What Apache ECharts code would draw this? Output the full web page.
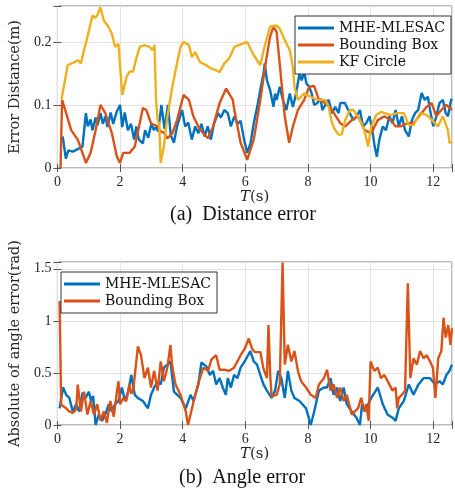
<!DOCTYPE html>
<html lang="en">
<head>
    <meta charset="UTF-8">
    <title>Distance and angle error</title>
    <script src="https://cdn.jsdelivr.net/npm/echarts@6/dist/echarts.min.js"></script>
    <style>
        html, body { margin: 0; padding: 0; background: #fff; }
        #main { width: 455px; height: 492px; }
    </style>
</head>
<body>
    <div id="main"></div>
    <script>
        // series names
        const names = ["MHE-MLESAC", "Bounding Box", "KF Circle"]
        const colors = ["#0072BD", "#D95319", "#EDB120"]

        // (a) distance error, [t, value]
        const distMhe = [[0.17,0.05],[0.27,0.015],[0.35,0.028],[0.49,0.026],[0.65,0.03],[0.8,0.034],[0.91,0.087],[0.97,0.066],[1.06,0.077],[1.12,0.06],[1.22,0.08],[1.28,0.068],[1.38,0.087],[1.45,0.07],[1.53,0.082],[1.6,0.065],[1.7,0.088],[1.78,0.07],[1.9,0.09],[2.0,0.1],[2.07,0.065],[2.15,0.088],[2.25,0.06],[2.35,0.07],[2.45,0.045],[2.52,0.066],[2.6,0.045],[2.73,0.039],[2.8,0.06],[2.9,0.048],[3.0,0.07],[3.08,0.06],[3.15,0.065],[3.22,0.058],[3.32,0.1],[3.42,0.062],[3.53,0.1],[3.62,0.052],[3.72,0.04],[3.82,0.066],[3.98,0.092],[4.08,0.066],[4.18,0.072],[4.29,0.045],[4.4,0.066],[4.5,0.055],[4.6,0.07],[4.7,0.05],[4.8,0.066],[4.9,0.045],[5.0,0.07],[5.13,0.087],[5.22,0.08],[5.33,0.092],[5.44,0.087],[5.54,0.066],[5.65,0.082],[5.75,0.07],[5.85,0.075],[5.96,0.045],[6.06,0.024],[6.17,0.04],[6.27,0.071],[6.38,0.097],[6.48,0.124],[6.58,0.15],[6.62,0.166],[6.69,0.139],[6.79,0.124],[6.9,0.097],[6.95,0.118],[7.0,0.108],[7.1,0.129],[7.2,0.108],[7.31,0.092],[7.42,0.118],[7.52,0.097],[7.62,0.118],[7.73,0.15],[7.8,0.139],[7.88,0.153],[7.95,0.134],[8.04,0.129],[8.12,0.118],[8.2,0.1],[8.3,0.103],[8.4,0.11],[8.46,0.092],[8.56,0.1],[8.66,0.108],[8.77,0.087],[8.87,0.097],[8.98,0.087],[9.03,0.103],[9.08,0.105],[9.18,0.103],[9.34,0.087],[9.45,0.076],[9.55,0.082],[9.66,0.092],[9.76,0.066],[9.86,0.071],[9.97,0.082],[10.07,0.055],[10.13,0.034],[10.2,0.018],[10.28,0.045],[10.39,0.066],[10.49,0.06],[10.6,0.082],[10.7,0.071],[10.8,0.092],[10.9,0.066],[11.0,0.082],[11.1,0.06],[11.22,0.05],[11.32,0.076],[11.42,0.087],[11.52,0.092],[11.63,0.119],[11.73,0.108],[11.83,0.113],[11.9,0.092],[12.0,0.066],[12.1,0.082],[12.2,0.103],[12.31,0.108],[12.4,0.087],[12.47,0.082],[12.57,0.108],[12.6,0.11]]
        const distBox = [[0.1,0],[0.15,0.108],[0.28,0.087],[0.44,0.06],[0.65,0.045],[0.8,0.024],[0.91,0.008],[1.06,0.024],[1.22,0.06],[1.375,0.1],[1.53,0.087],[1.74,0.055],[1.9,0.018],[2.0,0.008],[2.1,0.024],[2.31,0.024],[2.47,0.034],[2.56,0.055],[2.73,0.095],[2.84,0.092],[2.99,0.071],[3.2,0.066],[3.3,0.058],[3.4,0.056],[3.51,0.047],[3.67,0.055],[3.82,0.076],[4.03,0.116],[4.2,0.108],[4.34,0.082],[4.55,0.061],[4.81,0.047],[4.97,0.066],[5.18,0.103],[5.39,0.126],[5.44,0.129],[5.6,0.108],[5.65,0.092],[5.85,0.04],[6.06,0.013],[6.27,0.045],[6.48,0.108],[6.63,0.16],[6.79,0.208],[6.9,0.224],[7.0,0.216],[7.16,0.134],[7.26,0.082],[7.4,0.04],[7.52,0.066],[7.68,0.092],[7.88,0.108],[8.04,0.129],[8.2,0.13],[8.35,0.108],[8.56,0.103],[8.77,0.092],[9.03,0.071],[9.19,0.066],[9.4,0.076],[9.6,0.082],[9.81,0.06],[10.02,0.055],[10.23,0.076],[10.44,0.082],[10.65,0.076],[10.8,0.066],[10.96,0.066],[11.17,0.071],[11.37,0.071],[11.58,0.084],[11.79,0.097],[11.95,0.103],[12.1,0.082],[12.26,0.092],[12.42,0.1],[12.6,0.092]]
        const distKf = [[0.13,0.109],[0.33,0.163],[0.54,0.168],[0.65,0.171],[0.75,0.166],[0.85,0.187],[0.96,0.208],[1.06,0.229],[1.12,0.242],[1.2,0.238],[1.27,0.242],[1.375,0.255],[1.48,0.234],[1.63,0.224],[1.74,0.213],[1.84,0.192],[1.95,0.197],[2.0,0.2],[2.07,0.116],[2.21,0.145],[2.31,0.153],[2.42,0.153],[2.52,0.174],[2.63,0.192],[2.78,0.195],[2.94,0.192],[3.04,0.187],[3.1,0.195],[3.15,0.108],[3.2,0.076],[3.25,0.07],[3.3,0.008],[3.4,0.034],[3.51,0.081],[3.67,0.129],[3.82,0.166],[3.93,0.192],[4.03,0.2],[4.2,0.195],[4.29,0.176],[4.4,0.184],[4.55,0.168],[4.76,0.163],[4.9,0.158],[5.07,0.155],[5.18,0.152],[5.33,0.166],[5.49,0.174],[5.65,0.192],[6.06,0.2],[6.27,0.179],[6.48,0.163],[6.6,0.19],[6.79,0.224],[7.0,0.226],[7.1,0.221],[7.26,0.203],[7.42,0.187],[7.52,0.16],[7.57,0.129],[7.68,0.108],[7.88,0.118],[8.09,0.113],[8.3,0.108],[8.56,0.108],[8.66,0.097],[8.77,0.071],[8.875,0.06],[8.98,0.053],[9.08,0.053],[9.19,0.076],[9.34,0.092],[9.45,0.092],[9.66,0.076],[9.8,0.06],[9.92,0.034],[10.02,0.066],[10.18,0.084],[10.33,0.089],[10.65,0.084],[10.85,0.087],[11.06,0.087],[11.22,0.068],[11.37,0.068],[11.58,0.087],[11.8,0.084],[12.0,0.074],[12.15,0.066],[12.31,0.082],[12.47,0.06],[12.52,0.04],[12.6,0.041]]

        // (b) angle error, [t, value]
        const angMhe = [[0.07,0.16],[0.18,0.36],[0.28,0.29],[0.38,0.26],[0.49,0.13],[0.6,0.2],[0.7,0.13],[0.8,0.31],[0.9,0.26],[1.0,0.32],[1.08,0.23],[1.14,0.28],[1.22,0.0],[1.32,0.1],[1.43,0.04],[1.53,0.1],[1.64,0.2],[1.74,0.13],[1.84,0.2],[1.95,0.23],[2.06,0.36],[2.16,0.23],[2.26,0.32],[2.36,0.48],[2.47,0.29],[2.57,0.26],[2.73,0.23],[2.89,0.16],[2.99,0.29],[3.09,0.36],[3.2,0.42],[3.3,0.39],[3.4,0.55],[3.51,0.58],[3.61,0.61],[3.72,0.32],[3.93,0.26],[4.1,0.16],[4.25,0.29],[4.35,0.23],[4.5,0.39],[4.6,0.6],[4.76,0.56],[4.87,0.48],[4.97,0.52],[5.07,0.39],[5.18,0.45],[5.28,0.36],[5.38,0.29],[5.44,0.45],[5.54,0.36],[5.64,0.48],[5.75,0.45],[5.85,0.55],[5.98,0.61],[6.16,0.71],[6.27,0.61],[6.375,0.58],[6.48,0.48],[6.58,0.39],[6.69,0.33],[6.84,0.26],[6.95,0.33],[7.05,0.52],[7.15,0.45],[7.26,0.26],[7.36,0.52],[7.47,0.33],[7.57,0.26],[7.73,0.23],[7.94,0.16],[8.09,0.0],[8.2,0.13],[8.35,0.33],[8.51,0.36],[8.61,0.36],[8.72,0.45],[8.82,0.29],[8.93,0.36],[9.03,0.23],[9.14,0.36],[9.24,0.2],[9.4,0.13],[9.55,0.07],[9.66,0.0],[9.73,0.2],[9.81,0.13],[10.02,0.26],[10.23,0.36],[10.39,0.2],[10.54,0.1],[10.7,0.07],[10.8,0.04],[10.9,0.16],[11.06,0.23],[11.22,0.39],[11.37,0.29],[11.53,0.39],[11.69,0.45],[11.9,0.45],[12.05,0.39],[12.2,0.42],[12.31,0.39],[12.42,0.48],[12.52,0.52],[12.6,0.58]]
        const angBox = [[0.07,1.19],[0.12,0.195],[0.28,0.16],[0.38,0.13],[0.49,0.115],[0.6,0.15],[0.65,0.387],[0.75,0.13],[0.85,0.32],[0.96,0.1],[1.06,0.23],[1.17,0.1],[1.27,0.2],[1.38,0.04],[1.48,0.13],[1.58,0.02],[1.69,0.23],[1.8,0.08],[1.9,0.32],[1.95,0.42],[2.0,0.2],[2.1,0.26],[2.2,0.23],[2.3,0.39],[2.36,0.3],[2.42,0.33],[2.57,0.755],[2.67,0.67],[2.78,0.45],[2.89,0.55],[2.99,0.36],[3.09,0.52],[3.2,0.33],[3.3,0.61],[3.4,0.42],[3.51,0.55],[3.61,0.77],[3.66,0.58],[3.77,0.39],[3.93,0.29],[4.1,0.13],[4.17,0.0],[4.25,0.1],[4.4,0.29],[4.55,0.45],[4.66,0.55],[4.81,0.52],[4.92,0.63],[5.07,0.67],[5.18,0.53],[5.33,0.53],[5.49,0.52],[5.64,0.55],[5.85,0.67],[5.98,0.73],[6.11,0.83],[6.22,0.73],[6.3,0.7],[6.48,0.7],[6.58,0.54],[6.69,0.45],[6.74,0.96],[6.8,0.45],[6.84,0.275],[7.0,0.29],[7.1,0.39],[7.19,1.56],[7.26,0.58],[7.36,0.77],[7.47,0.61],[7.57,0.71],[7.68,0.52],[7.78,0.42],[7.94,0.36],[8.09,0.29],[8.25,0.26],[8.35,0.39],[8.51,0.45],[8.61,0.53],[8.72,0.33],[8.82,0.39],[8.93,0.26],[9.03,0.36],[9.14,0.23],[9.24,0.29],[9.4,0.1],[9.5,0.13],[9.6,0.16],[9.7,0.26],[9.81,0.13],[9.86,0.2],[9.94,0.04],[10.0,0.61],[10.12,0.52],[10.23,0.55],[10.33,0.45],[10.44,0.48],[10.6,0.39],[10.7,0.33],[10.8,0.36],[10.85,0.16],[10.9,0.26],[11.0,0.29],[11.1,0.33],[11.19,1.36],[11.27,0.45],[11.37,0.64],[11.48,0.58],[11.58,0.71],[11.69,0.64],[11.79,0.67],[11.9,0.61],[11.99,0.55],[12.07,0.26],[12.16,0.64],[12.26,0.71],[12.33,1.03],[12.4,0.84],[12.48,0.96],[12.55,0.77],[12.6,0.93]]

        const font = "Liberation Serif"
        const wide = "DejaVu Serif"
        const txt = "#262626"

        function tickFmt(step) {
            // only label multiples of the step (hide the auto max label)
            return function (v) {
                let k = Math.round(v / step)
                return Math.abs(k * step - v) < 1e-6 ? String(+(k * step).toFixed(2)) : ""
            }
        }

        function xAxis(idx) {
            return {
                type: "value", gridIndex: idx, min: 0, max: 12.6, interval: 2,
                name: "{i|T}(s)", nameLocation: "middle", nameGap: 21,
                nameTextStyle: { fontFamily: wide, fontSize: 15, color: txt,
                    rich: { i: { fontFamily: wide, fontStyle: "italic", fontSize: 15, color: txt } } },
                axisLine: { show: false },
                axisTick: { inside: true, length: 4, lineStyle: { color: "#555" } },
                axisLabel: { fontFamily: font, fontSize: 14, color: txt, margin: 7, formatter: tickFmt(2) },
                splitLine: { lineStyle: { color: "#e3e3e3" } }
            }
        }

        function yAxis(idx, max, step, name, gap) {
            return {
                type: "value", gridIndex: idx, min: 0, max: max, interval: step,
                name: name, nameLocation: "middle", nameGap: gap,
                nameTextStyle: { fontFamily: wide, fontSize: 14.5, color: txt },
                axisLine: { show: false },
                axisTick: { inside: true, length: 4, lineStyle: { color: "#555" } },
                axisLabel: { fontFamily: font, fontSize: 14, color: txt, margin: 6, formatter: tickFmt(step) },
                splitLine: { lineStyle: { color: "#e3e3e3" } }
            }
        }

        // mirrored ticks on top / right (box on)
        function mirror(idx, dim, max, step) {
            return {
                type: "value", gridIndex: idx, min: 0, max: max, interval: step,
                position: dim === "x" ? "top" : "right",
                axisLine: { show: false }, axisLabel: { show: false }, splitLine: { show: false },
                axisTick: { inside: true, length: 4, lineStyle: { color: "#555" } }
            }
        }

        function line(name, data, color, idx) {
            return {
                type: "line", name: name, data: data, xAxisIndex: idx, yAxisIndex: idx,
                showSymbol: false, symbol: "none",
                lineStyle: { color: color, width: 2.4 }, itemStyle: { color: color }
            }
        }

        let legendBase = {
            orient: "vertical", icon: "rect", itemWidth: 36, itemHeight: 3, itemGap: 3,
            backgroundColor: "#fff", borderColor: "#333", borderWidth: 1, borderRadius: 0,
            padding: [5, 6, 5, 3],
            textStyle: { fontFamily: wide, fontSize: 14, color: "#111" }
        }

        let chart = echarts.init(document.getElementById("main"), null, { renderer: "canvas" })
        chart.setOption({
            animation: false,
            backgroundColor: "#fff",
            grid: [
                { left: 51, top: 6, right: 0, height: 162, show: true, borderColor: "#777", borderWidth: 1 },
                { left: 51, top: 262, right: 0, height: 163, show: true, borderColor: "#777", borderWidth: 1 }
            ],
            title: [
                { text: "(a)  Distance error", left: 165, top: 200,
                  textStyle: { fontFamily: font, fontSize: 20, fontWeight: "normal", color: "#111" } },
                { text: "(b)  Angle error", left: 174, top: 463,
                  textStyle: { fontFamily: font, fontSize: 20, fontWeight: "normal", color: "#111" } }
            ],
            legend: [
                Object.assign({}, legendBase, { data: names, left: 295, top: 16 }),
                Object.assign({}, legendBase, { data: names.slice(0, 2), left: 61, top: 272 })
            ],
            xAxis: [xAxis(0), xAxis(1), mirror(0, "x", 12.6, 2), mirror(1, "x", 12.6, 2)],
            yAxis: [
                yAxis(0, 0.257, 0.1, "Error Distance(m)", 26),
                yAxis(1, 1.565, 0.5, "Absolute of angle error(rad)", 29),
                mirror(0, "y", 0.257, 0.1), mirror(1, "y", 1.565, 0.5)
            ],
            series: [
                line(names[0], distMhe, colors[0], 0),
                line(names[1], distBox, colors[1], 0),
                line(names[2], distKf, colors[2], 0),
                line(names[0], angMhe, colors[0], 1),
                line(names[1], angBox, colors[1], 1)
            ]
        })
    </script>
</body>
</html>
